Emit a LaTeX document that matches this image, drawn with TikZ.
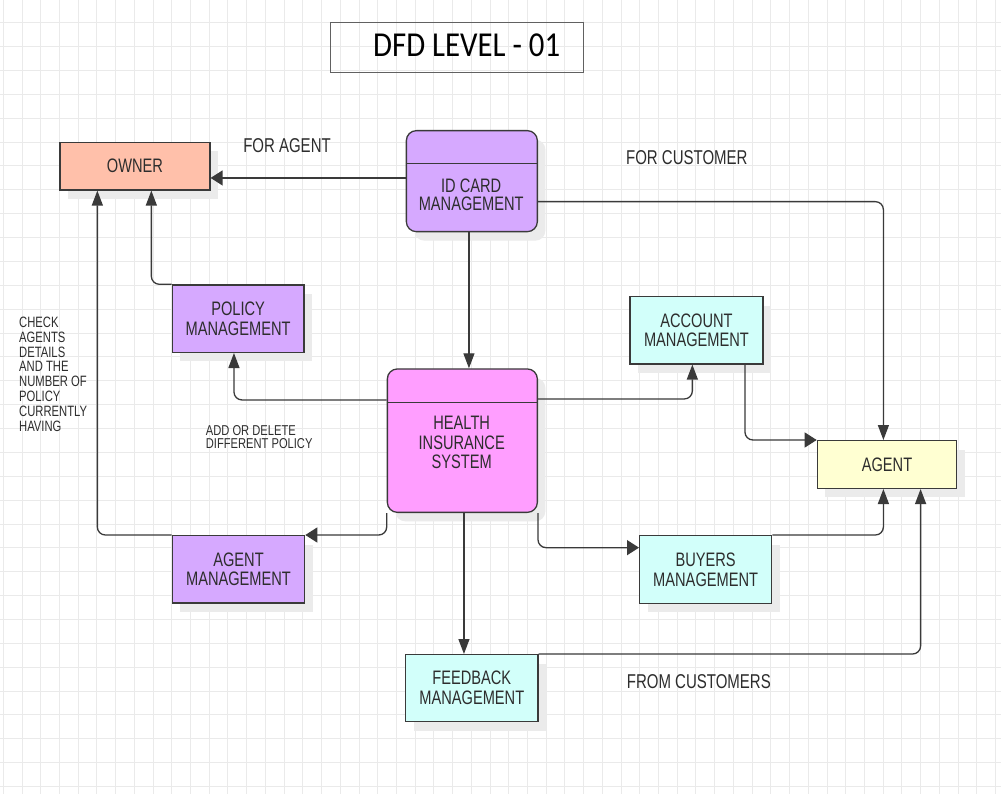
\documentclass[tikz,border=0pt]{standalone}
\usepackage{fontspec}
\usetikzlibrary{arrows.meta,shadows,calc}
\newfontfamily\nar[FakeStretch=0.75]{Liberation Sans}
\newfontfamily\narw[FakeStretch=0.78]{Liberation Sans}
\newfontfamily\ttl[FakeStretch=0.88]{Carlito}
\definecolor{gridc}{RGB}{234,234,234}
\definecolor{edgec}{RGB}{58,58,58}
\definecolor{txtc}{RGB}{45,45,45}
\definecolor{ownerc}{RGB}{255,192,170}
\definecolor{lavc}{RGB}{214,169,255}
\definecolor{pinkc}{RGB}{255,158,255}
\definecolor{cyanc}{RGB}{210,255,250}
\definecolor{yelc}{RGB}{255,255,210}
\tikzset{
  gridline/.style={draw=gridc,line width=0.9pt},
  boxbase/.style={draw=edgec,line width=1.3pt,anchor=north west,inner sep=0pt,
    align=center,text=txtc,font=\nar\fontsize{19.5}{19.8}\selectfont,
    drop shadow={shadow xshift=8pt,shadow yshift=-9pt,fill=black!8,opacity=1}},
  procbox/.style={boxbase,rounded corners=10pt},
  lbl/.style={text=txtc,inner sep=0pt,font=\nar\fontsize{20}{21}\selectfont},
  smalllbl/.style={text=txtc,inner sep=0pt,align=left,anchor=base west},
  conn/.style={draw=edgec,line width=1.3pt,rounded corners=8pt},
  harr/.style={conn,-{Triangle[length=12pt,width=15pt]}},
  varr/.style={conn,-{Triangle[length=15pt,width=11pt]}},
}
\begin{document}
\begin{tikzpicture}[x=1pt,y=-1pt]
\useasboundingbox (0,0) rectangle (1001,794);
\fill[white] (0,0) rectangle (1001,794);
% grid
\foreach \i in {0,...,53} \draw[gridline] ({3.3+18.72*\i},0) -- ({3.3+18.72*\i},794);
\foreach \j in {0,...,33} \draw[gridline] (0,{-1.17+23.87*\j}) -- (1001,{-1.17+23.87*\j});

% title
\node[draw=edgec!80,line width=1.2pt,minimum width=253pt,minimum height=49.4pt,anchor=north west,inner sep=0pt] (titlebox) at (330,22.3) {};
\node[anchor=base,inner sep=0pt,text=black,font=\ttl\fontsize{35}{36}\selectfont] (title) at (466.7,56.7) {DFD LEVEL - 01};

% boxes
\node[boxbase,fill=ownerc,minimum width=150pt,minimum height=47.6pt] (owner) at (59.3,141.7) {OWNER};
\node[boxbase,fill=lavc,minimum width=131.6pt,minimum height=67.4pt] (policy) at (171.7,284.3) {POLICY\\MANAGEMENT};
\node[procbox,fill=lavc,minimum width=131pt,minimum height=101pt] (idcard) at (405.7,130) {};
\node[procbox,fill=pinkc,minimum width=150pt,minimum height=143.4pt] (his) at (386.7,368.3) {};
\node[boxbase,fill=cyanc,minimum width=133pt,minimum height=67.3pt] (account) at (629.3,296) {ACCOUNT\\MANAGEMENT};
\node[boxbase,fill=yelc,minimum width=139.3pt,minimum height=47.7pt] (agent) at (816.7,440) {AGENT};
\node[boxbase,fill=cyanc,minimum width=132pt,minimum height=67.7pt] (buyers) at (639,535) {BUYERS\\MANAGEMENT};
\node[boxbase,fill=cyanc,minimum width=132.3pt,minimum height=67pt] (feedback) at (405,654) {FEEDBACK\\MANAGEMENT};
\node[boxbase,fill=lavc,minimum width=132.3pt,minimum height=67.3pt] (agentmgmt) at (171.7,535) {AGENT\\MANAGEMENT};

% process dividers and texts
\draw[draw=edgec,line width=1.3pt] (idcard.west |- 0,163.3) -- (idcard.east |- 0,163.3);
\draw[draw=edgec,line width=1.3pt] (his.west |- 0,402.3) -- (his.east |- 0,402.3);
\node[align=center,text=txtc,inner sep=0pt,font=\nar\fontsize{19.5}{17.8}\selectfont] (idtext) at (471.2,194.5) {ID CARD\\MANAGEMENT};
\node[align=center,text=txtc,inner sep=0pt,font=\nar\fontsize{19.5}{19.2}\selectfont] (histext) at (461.7,442.5) {HEALTH\\INSURANCE\\SYSTEM};

% labels
\node[lbl] (foragent) at (287,146) {FOR AGENT};
\node[lbl] (forcust) at (686.8,158) {FOR CUSTOMER};
\node[lbl] (fromcust) at (698.8,682) {FROM CUSTOMERS};
\node[smalllbl,font=\nar\fontsize{15}{14.8}\selectfont] (check) at (19,431) {CHECK\\AGENTS\\DETAILS\\AND THE\\NUMBER OF\\POLICY\\CURRENTLY\\HAVING};
\node[smalllbl,font=\narw\fontsize{14.3}{12.6}\selectfont] (adddel) at (205.7,448.3) {ADD OR DELETE\\DIFFERENT POLICY};

% connectors
\draw[harr] ([yshift=3.2pt]idcard.west) -- ([yshift=3.2pt]idcard.west -| owner.east);
\draw[varr] ([yshift=-20.5pt]idcard.east) -| ([xshift=-3.6pt]agent.north);
\draw[varr] ([xshift=-2.9pt]idcard.south) -- ([xshift=-2.9pt]idcard.south |- his.north);
\draw[varr] ([yshift=40.7pt]his.west) -| ([xshift=-4.2pt]policy.south);
\draw[varr] ([yshift=41.7pt]his.east) -| ([xshift=-4.1pt]account.south);
\draw[harr] ([xshift=48.5pt]account.south) |- (agent.north west);
\draw[harr] (his.south east) |- ([yshift=21.85pt]buyers.west);
\draw[varr] (buyers.north east) -| ([xshift=-3.6pt]agent.south);
\draw[varr] ([xshift=1.6pt]his.south) -- ([xshift=1.6pt]his.south |- feedback.north);
\draw[varr] (feedback.north east) -| ([xshift=33.6pt]agent.south);
\draw[harr] (his.south west) |- (agentmgmt.north east);
\draw[varr] (agentmgmt.north west) -| ([xshift=-37.6pt]owner.south);
\draw[varr] (policy.north west) -| ([xshift=16.4pt]owner.south);
\end{tikzpicture}
\end{document}
